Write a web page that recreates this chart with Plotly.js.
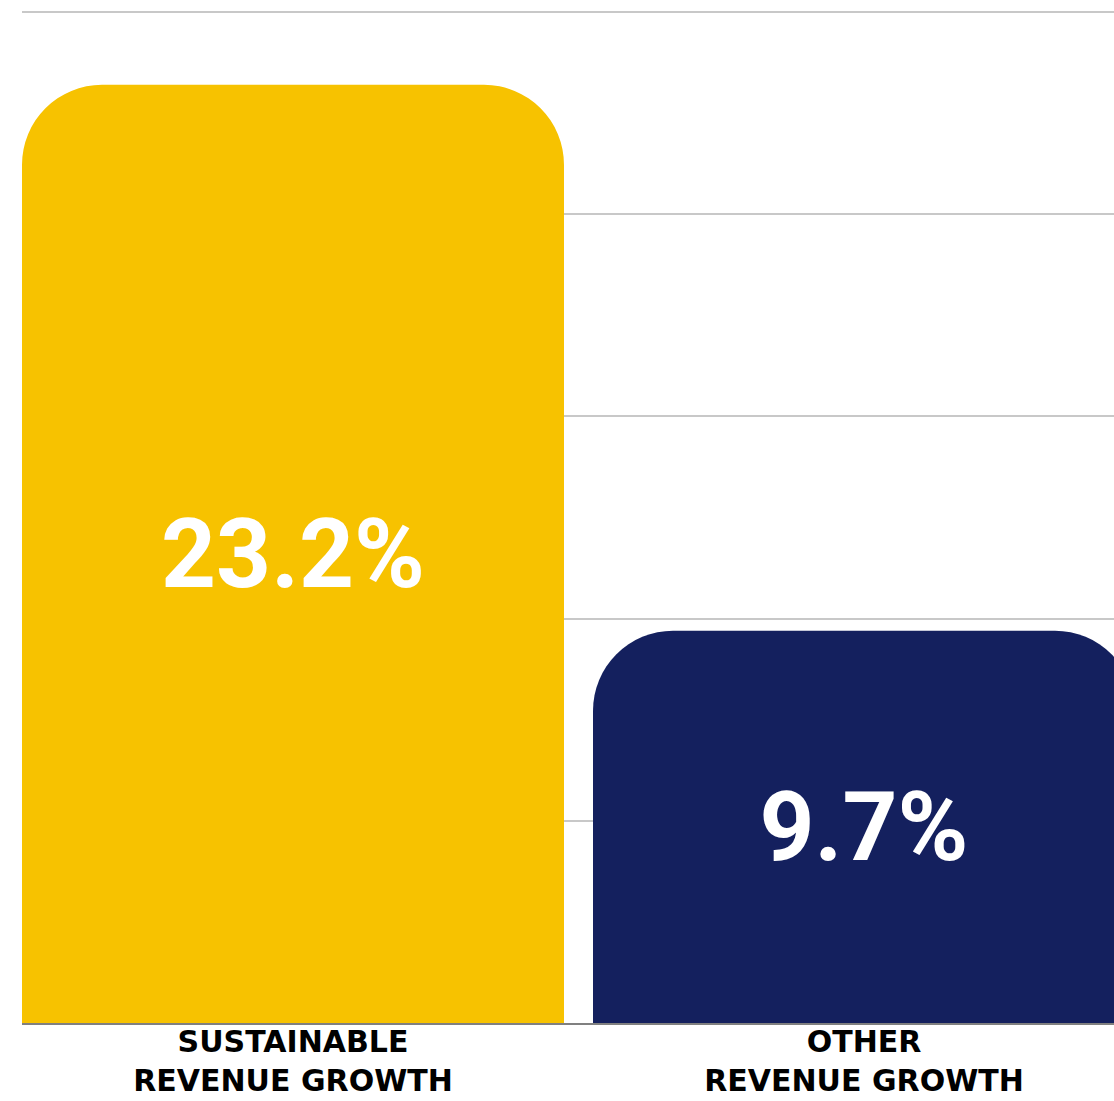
<!DOCTYPE html>
<html>
<head>
<meta charset="utf-8">
<script src="https://cdn.plot.ly/plotly-3.0.1.min.js"></script>
<style>
  html, body { margin: 0; padding: 0; overflow: hidden; background: #ffffff; }
  #chart { width: 1160px; height: 1101px; }
</style>
</head>
<body>
<div id="chart"></div>
<script>
const categories = ["SUSTAINABLE<br>REVENUE GROWTH", "OTHER<br>REVENUE GROWTH"];
const values = [23.2, 9.7];
const valueLabels = ["23.2%", "9.7%"];
const barColors = ["#F7C200", "#14205E"];
const yTicks = [0, 5, 10, 15, 20, 25];

const trace = {
  type: "bar",
  x: categories,
  y: values,
  text: valueLabels,
  textposition: "inside",
  insidetextanchor: "middle",
  textangle: 0,
  constraintext: "none",
  textfont: { family: "Roboto, 'Open Sans', sans-serif", size: 96, color: "#ffffff", weight: 700 },
  marker: { color: barColors, cornerradius: 80, line: { width: 0 } },
  hoverinfo: "none",
  cliponaxis: false
};

const layout = {
  width: 1160,
  height: 1101,
  margin: { l: 22, r: 0, t: 10, b: 78 },
  paper_bgcolor: "#ffffff",
  plot_bgcolor: "#ffffff",
  showlegend: false,
  bargap: 0.0508,
  xaxis: {
    type: "category",
    range: [-0.4746, 1.5184],
    showgrid: false,
    showline: true,
    linecolor: "#808080",
    linewidth: 2,
    layer: "below traces",
    ticks: "",
    ticklabelstandoff: -9,
    tickfont: { family: "'DejaVu Sans', sans-serif", size: 30, color: "#000000", weight: 700 },
    fixedrange: true
  },
  yaxis: {
    range: [0, 25.05],
    tickvals: yTicks,
    showticklabels: false,
    showgrid: true,
    gridcolor: "#c8c8c8",
    gridwidth: 2,
    zeroline: false,
    showline: false,
    ticks: "",
    fixedrange: true
  }
};

Plotly.newPlot("chart", [trace], layout, { displayModeBar: false, staticPlot: true });
</script>
</body>
</html>
